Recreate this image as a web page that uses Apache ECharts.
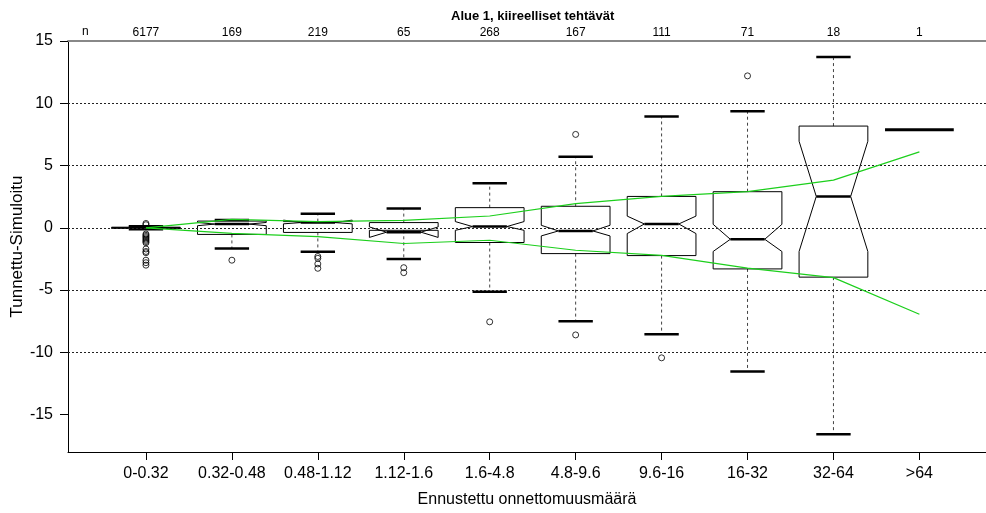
<!DOCTYPE html>
<html><head><meta charset="utf-8">
<script src="https://cdn.jsdelivr.net/npm/echarts@6/dist/echarts.min.js"></script>
<style>html,body{margin:0;padding:0;background:#fff}#c{width:986px;height:513px}</style>
</head><body><div id="c"></div>
<script>
// ---- data ----
const categories = ['0-0.32','0.32-0.48','0.48-1.12','1.12-1.6','1.6-4.8','4.8-9.6','9.6-16','16-32','32-64','>64'];
const counts = [6177,169,219,65,268,167,111,71,18,1];
const lowerWhisker = [-0.12,-1.66,-1.93,-2.5,-5.13,-7.5,-8.55,-11.53,-16.57,7.88];
const q1 =           [-0.05,-0.53,-0.37,-0.2,-1.18,-2.07,-2.23,-3.3,-3.96,7.88];
const notchLow =     [-0.01,0.17,0.32,-0.77,-0.2,-0.65,-0.46,-1.9,-1.9,7.88];
const median =       [0.0,0.3,0.42,-0.35,0.1,-0.25,0.31,-0.92,2.52,7.88];
const notchHigh =    [0.01,0.43,0.62,0.07,0.5,0.2,0.94,0.28,6.95,7.88];
const q3 =           [0.05,0.54,0.5,0.42,1.62,1.73,2.52,2.9,8.17,7.88];
const upperWhisker = [0.12,0.62,1.12,1.56,3.57,5.7,8.94,9.35,13.72,7.88];
const outliers = [
  [0.35,0.25,-0.5,-0.6,-0.7,-0.8,-0.9,-1.0,-1.1,-1.2,-1.7,-1.9,-2.0,-2.6,-2.8,-3.0],
  [-2.6],
  [-2.3,-2.45,-2.9,-3.25],
  [-3.2,-3.6],
  [-7.55],
  [7.5,-8.6],
  [-10.44],
  [12.2],
  [],
  []
];
const greenUpper = [0,0.68,0.5,0.6,0.95,1.95,2.52,2.9,3.83,6.1];
const greenLower = [0,-0.45,-0.7,-1.26,-1.0,-1.8,-2.22,-3.24,-4.0,-6.94];
const yTicks = [-15,-10,-5,0,5,10,15];
const gridValues = [10,5,0,-5,-10];
const catIndex = categories.map((c,i)=>i);

const FONT = "'Liberation Sans', Arial, sans-serif";

const boxData = catIndex.map(i=>[i, lowerWhisker[i], q1[i], notchLow[i], median[i], notchHigh[i], q3[i], upperWhisker[i]]);
const outlierData = [];
outliers.forEach((arr,i)=>arr.forEach(v=>outlierData.push([i,v])));
const countData = catIndex.map(i=>[i, 15, String(counts[i])]);

function renderBox(params, api){
  const x = api.value(0);
  const lw = api.value(1), a = api.value(2), nl = api.value(3), m = api.value(4),
        nh = api.value(5), b = api.value(6), uw = api.value(7);
  const W = 0.4, I = 0.2;
  const P = (dx, v) => api.coord([x + dx, v]);
  const ch = [];
  const dash = {stroke:'#444', lineWidth:1, lineDash:[3,3]};
  const ln = (p1,p2,style)=>({type:'line', shape:{x1:p1[0],y1:p1[1],x2:p2[0],y2:p2[1]}, style:style});
  if (b !== a) {
    if (uw > b) ch.push(ln(P(0,b),P(0,uw),dash));
    if (lw < a) ch.push(ln(P(0,a),P(0,lw),dash));
    ch.push(ln(P(-I,uw),P(I,uw),{stroke:'#000',lineWidth:2.5}));
    ch.push(ln(P(-I,lw),P(I,lw),{stroke:'#000',lineWidth:2.5}));
    ch.push({type:'polygon', shape:{points:[P(-W,a),P(-W,nl),P(-I,m),P(-W,nh),P(-W,b),P(W,b),P(W,nh),P(I,m),P(W,nl),P(W,a)]},
      style:{fill:'none', stroke:'#000', lineWidth:1}});
    ch.push(ln(P(-I,m),P(I,m),{stroke:'#000',lineWidth:2.5}));
  } else {
    ch.push(ln(P(-W,m),P(W,m),{stroke:'#000',lineWidth:3}));
  }
  return {type:'group', children:ch};
}

function renderCount(params, api){
  const p = api.coord([api.value(0), api.value(1)]);
  return {type:'text', x:p[0], y:p[1]-2, style:{text:String(counts[params.dataIndex]), align:'center', verticalAlign:'bottom', fontSize:12, fontFamily:FONT, fill:'#000'}};
}

const chart = echarts.init(document.getElementById('c'), null, {renderer:'canvas'});
chart.setOption({
  animation:false,
  backgroundColor:'#fff',
  title:{text:'Alue 1, kiireelliset tehtävät', left:446, top:5,
    textStyle:{fontSize:13, fontWeight:'bold', fontFamily:FONT, color:'#000'}},
  grid:{left:68, right:0, top:41, bottom:61, containLabel:false, outerBoundsMode:'none'},
  xAxis:[{
    type:'value', min:-0.907, max:9.775, position:'bottom',
    name:'Ennustettu onnettomuusmäärä', nameLocation:'middle', nameGap:40, nameMoveOverlap:false,
    nameTextStyle:{fontSize:16, fontFamily:FONT, color:'#000'},
    axisLine:{show:true, onZero:false, lineStyle:{color:'#000', width:1}},
    axisTick:{show:true, customValues:catIndex, length:8, lineStyle:{color:'#000'}},
    axisLabel:{customValues:catIndex, formatter:(v)=>categories[Math.round(v)], fontSize:16, fontFamily:FONT, color:'#000', margin:14},
    splitLine:{show:false}
  },{
    type:'value', min:-0.907, max:9.775, position:'top',
    axisLine:{show:true, onZero:false, lineStyle:{color:'#888', width:2}},
    axisTick:{show:false}, axisLabel:{show:false}, splitLine:{show:false}
  }],
  yAxis:{
    type:'value', min:-18, max:15,
    name:'Tunnettu-Simuloitu', nameLocation:'middle', nameGap:42, nameRotate:90, nameMoveOverlap:false,
    nameTextStyle:{fontSize:17, fontFamily:FONT, color:'#000'},
    axisLine:{show:true, onZero:false, lineStyle:{color:'#000', width:1}},
    axisTick:{show:true, customValues:yTicks, length:8, lineStyle:{color:'#000'}},
    axisLabel:{customValues:yTicks, fontSize:16, fontFamily:FONT, color:'#000', margin:15},
    splitLine:{show:false}
  },
  series:[
    {type:'line', data:[], silent:true,
      markLine:{symbol:'none', silent:true, label:{show:false},
        lineStyle:{type:[2,2], color:'#222', width:1},
        data:gridValues.map(v=>({yAxis:v}))}},
    {type:'custom', renderItem:renderBox, data:boxData, encode:{x:0, y:[1,2,3,4,5,6,7]}, z:3, clip:false},
    {type:'scatter', data:outlierData, symbol:'circle', symbolSize:6,
      itemStyle:{color:'rgba(0,0,0,0)', borderColor:'#000', borderWidth:1}, z:4},
    {type:'line', data:catIndex.map(i=>[i, greenUpper[i]]), showSymbol:false, symbol:'none',
      lineStyle:{color:'#1ccf1c', width:1.2}, z:5},
    {type:'line', data:catIndex.map(i=>[i, greenLower[i]]), showSymbol:false, symbol:'none',
      lineStyle:{color:'#1ccf1c', width:1.2}, z:5},
    {type:'custom', renderItem:renderCount, data:countData, encode:{x:0, y:1}, clip:false, z:6}
  ],
  graphic:[{type:'text', left:82, top:26, style:{text:'n', fontSize:12, fontFamily:FONT, fill:'#000'}}]
});
</script>
</body></html>
